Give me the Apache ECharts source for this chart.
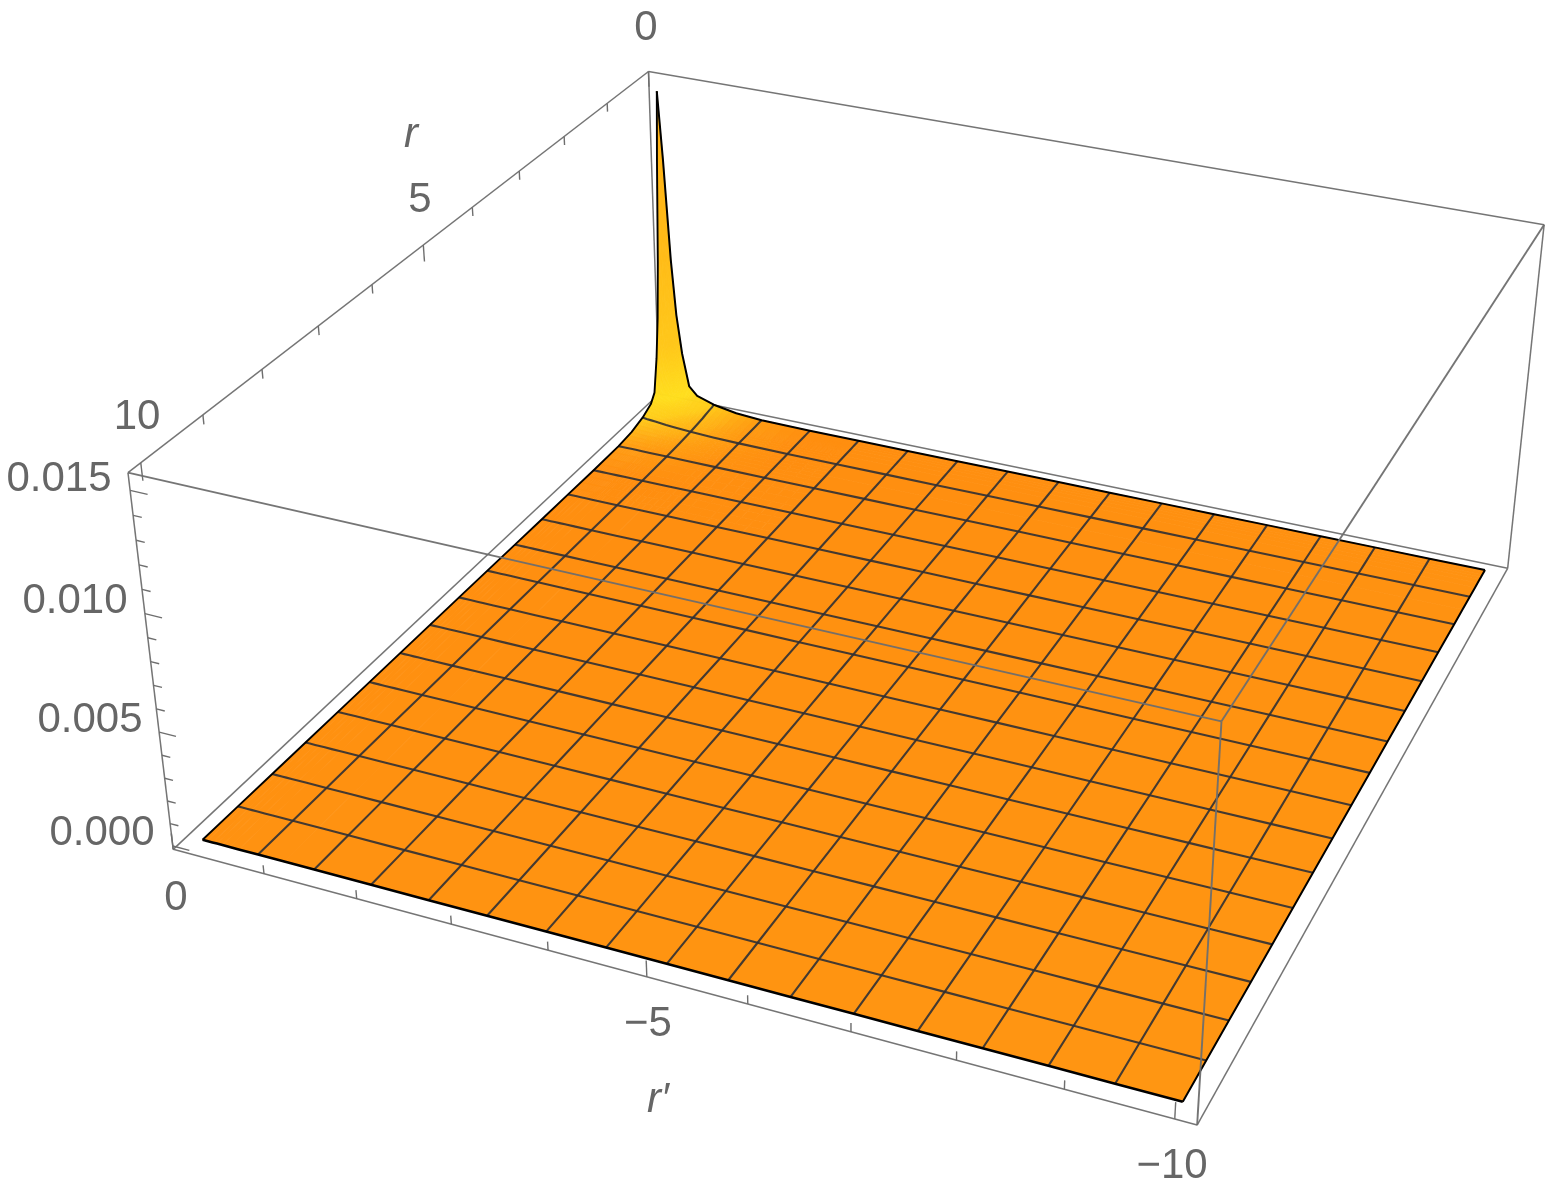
<!DOCTYPE html>
<html><head><meta charset="utf-8">
<style>html,body{margin:0;padding:0;background:#fff}#c{width:1557px;height:1190px}</style>
<script src="https://cdn.jsdelivr.net/npm/echarts@6/dist/echarts.min.js"></script>
</head><body><div id="c"></div>
<script>
// ---- data ----
const rSamples = [0.2,0.25,0.31,0.36,0.42,0.5,0.6,0.8125,1.1,1.425,2.0375,2.65,3.2625,3.875,4.4875,5.1,5.7125,6.325,6.9375,7.55,8.1625,8.775,9.3875,10];
const rPrimeSamples = [-0.2,-0.25,-0.31,-0.36,-0.42,-0.5,-0.6,-0.8125,-1.1,-1.425,-2.0375,-2.65,-3.2625,-3.875,-4.4875,-5.1,-5.7125,-6.325,-6.9375,-7.55,-8.1625,-8.775,-9.3875,-10];
// surface height (x 0.001) near the corner, rows r, columns r'
const zNearCorner = [
 [15.2,12.0,7.2,4.5,2.6,1.0,0.6,0.32,0.12,0.03],
 [12.0,9.0,5.6,3.6,2.3,0.95,0.55,0.28,0.11,0.03],
 [7.2,5.6,3.9,2.8,1.9,0.85,0.5,0.26,0.1,0.03],
 [4.5,3.6,2.8,2.1,1.5,0.75,0.45,0.24,0.09,0.03],
 [2.6,2.3,1.9,1.5,1.2,0.65,0.4,0.22,0.09,0.03],
 [1.0,0.95,0.85,0.75,0.65,0.45,0.32,0.18,0.08,0.025],
 [0.6,0.55,0.5,0.45,0.4,0.32,0.25,0.15,0.07,0.02],
 [0.32,0.28,0.26,0.24,0.22,0.18,0.15,0.1,0.05,0.02],
 [0.12,0.11,0.1,0.09,0.09,0.08,0.07,0.05,0.03,0.01],
 [0.03,0.03,0.03,0.03,0.03,0.025,0.02,0.02,0.01,0.005]
];
const zFarField = 0;
const meshR = [0.8125,1.425,2.0375,2.65,3.2625,3.875,4.4875,5.1,5.7125,6.325,6.9375,7.55,8.1625,8.775,9.3875];
const meshRPrime = [-0.8125,-1.425,-2.0375,-2.65,-3.2625,-3.875,-4.4875,-5.1,-5.7125,-6.325,-6.9375,-7.55,-8.1625,-8.775,-9.3875];
const rTicks = [0,1,2,3,4,5,6,7,8,9,10];
const rPrimeTicks = [0,-1,-2,-3,-4,-5,-6,-7,-8,-9,-10];
const zTicks = [0,0.001,0.002,0.003,0.004,0.005,0.006,0.007,0.008,0.009,0.010,0.011,0.012,0.013,0.014,0.015];
const tickLabels = ['0','5','10','0.015','0.010','0.005','0.000','0','\u22125','\u221210'];
const axisNames = ['r','r\u2032'];

// ---- view: axis box range and camera fitted to the box corners ----
const R0=0,R1=10.2,P0=0,P1=-10.2,Z0=-0.00015,Z1=0.0157;
const U=p=>(P0-p)/(P0-P1), V=r=>(r-R0)/(R1-R0), W=z=>(z-Z0)/(Z1-Z0);
const calib=[
 [0,1,1,128,473],[0,0,1,648,72],[1,0,1,1545,225],[1,1,1,1221,720],
 [0,1,0,173,852],[1,1,0,1197,1128],[1,0,0,1508,571],[0,0,0,658.5,395],
 [U(-0.2),V(10),W(0),203,838],[U(-10),V(10),W(0),1183,1099],[U(-10),V(0.2),W(0),1484,568],[U(-0.2),V(0.8125),W(0),644,421]
];
function fitCamera(pts){
  const n=11,M=Array.from({length:n},()=>new Array(n+1).fill(0));
  const add=(a,b)=>{for(let i=0;i<n;i++){for(let j=0;j<n;j++)M[i][j]+=a[i]*a[j];M[i][n]+=a[i]*b;}};
  pts.forEach(([u,v,w,x,y])=>{x/=1000;y/=1000;
    add([u,v,w,1,0,0,0,0,-x*u,-x*v,-x*w],x);
    add([0,0,0,0,u,v,w,1,-y*u,-y*v,-y*w],y);});
  for(let c=0;c<n;c++){let b=c;for(let i=c+1;i<n;i++)if(Math.abs(M[i][c])>Math.abs(M[b][c]))b=i;
    [M[c],M[b]]=[M[b],M[c]];
    for(let i=0;i<n;i++){if(i===c)continue;const f=M[i][c]/M[c][c];for(let j=c;j<=n;j++)M[i][j]-=f*M[c][j];}}
  return M.map((row,i)=>row[n]/row[i]);
}
const cam=fitCamera(calib);
function projUVW(u,v,w){const d=cam[8]*u+cam[9]*v+cam[10]*w+1;
  return [1000*(cam[0]*u+cam[1]*v+cam[2]*w+cam[3])/d,1000*(cam[4]*u+cam[5]*v+cam[6]*w+cam[7])/d];}
const proj=(p,r,z)=>projUVW(U(p),V(r),W(z));

const zAt=(ri,pi)=>(ri<zNearCorner.length&&pi<zNearCorner[0].length)?zNearCorner[ri][pi]*0.001:zFarField;

// ---- surface colour ----
const tStops=[[0,0],[0.02,0.12],[0.1,0.42],[0.3,0.78],[0.8,1],[3,0.72],[8,0.55],[16,0.42]];
function shade(z,p,r){const m=z*1000;let t=tStops[tStops.length-1][1];
  for(let i=1;i<tStops.length;i++){if(m<=tStops[i][0]){const a=tStops[i-1],b=tStops[i];t=a[1]+(b[1]-a[1])*(m-a[0])/(b[0]-a[0]);break;}}
  const front=(r/10)*0.5+(-p/10)*0.5;
  const g=141+front*9+(222-141)*t, bl=15+front*3+(30-15)*t;
  return 'rgb(255,'+Math.round(g)+','+Math.round(bl)+')';}

// ---- marks ----
const cells=[];
for(let i=0;i<rSamples.length-1;i++)for(let j=0;j<rPrimeSamples.length-1;j++)cells.push([i,j]);
cells.sort((a,b)=>(rSamples[a[0]]-rPrimeSamples[a[1]])-(rSamples[b[0]]-rPrimeSamples[b[1]]));

function renderCell(params,api){
  const i=api.value(0),j=api.value(1),sub=(i<11&&j<11)?4:1,kids=[];
  const r0=rSamples[i],r1=rSamples[i+1],p0=rPrimeSamples[j],p1=rPrimeSamples[j+1];
  const z00=zAt(i,j),z01=zAt(i,j+1),z10=zAt(i+1,j),z11=zAt(i+1,j+1);
  const pt=(a,b)=>{const r=r0+(r1-r0)*a,p=p0+(p1-p0)*b,z=(z00*(1-b)+z01*b)*(1-a)+(z10*(1-b)+z11*b)*a;return {r,p,z,c:api.coord(proj(p,r,z))};};
  for(let a=0;a<sub;a++)for(let b=0;b<sub;b++){
    const q=[pt(a/sub,b/sub),pt(a/sub,(b+1)/sub),pt((a+1)/sub,(b+1)/sub),pt((a+1)/sub,b/sub)];
    const mid=pt((a+.5)/sub,(b+.5)/sub),col=shade(mid.z,mid.p,mid.r);
    kids.push({type:'polygon',shape:{points:q.map(o=>o.c)},style:{fill:col,stroke:col,lineWidth:0.8}});
  }
  return {type:'group',children:kids};
}
function polyLine(pts,style){return {type:'polyline',shape:{points:pts},style:Object.assign({fill:null,lineJoin:'round'},style)};}

// mesh lines and outline follow the samples
const meshItems=[];
meshR.forEach(v=>meshItems.push(['r',rSamples.indexOf(v)]));
meshRPrime.forEach(v=>meshItems.push(['p',rPrimeSamples.indexOf(v)]));
const lineAlong=(kind,idx,api)=>kind==='r'
  ?rPrimeSamples.map((p,j)=>api.coord(proj(p,rSamples[idx],zAt(idx,j))))
  :rSamples.map((r,i)=>api.coord(proj(rPrimeSamples[idx],r,zAt(i,idx))));
const renderMesh=(par,api)=>{const it=meshItems[par.dataIndex];return polyLine(lineAlong(it[0],it[1],api),{stroke:'#303034',lineWidth:2.1,opacity:0.9});};
const outlineItems=[['r',rSamples.length-1,2.6],['p',rPrimeSamples.length-1,2],['r',0,2],['p',0,1.9]];
const renderOutline=(par,api)=>{const it=outlineItems[par.dataIndex];return polyLine(lineAlong(it[0],it[1],api),{stroke:'#000',lineWidth:it[2]});};

// box edges in unit-box coordinates
const backEdges=[[0,1,1,0,0,1],[0,0,1,1,0,1],[1,0,1,1,0,0],[0,0,1,0,0,0],[0,1,0,0,0,0],[0,0,0,1,0,0],[0,1,1,0,1,0],[0,1,0,1,1,0],[1,1,0,1,0,0]];
const frontEdges=[[0,1,1,1,1,1],[1,1,1,1,0,1],[1,1,1,1,1,0]];
const renderEdge=(list,w)=>(par,api)=>{const e=list[par.dataIndex];
  return polyLine([api.coord(projUVW(e[0],e[1],e[2])),api.coord(projUVW(e[3],e[4],e[5]))],{stroke:'#6e6e6e',lineWidth:w,opacity:0.95});};

// ticks
const tickItems=[];
rPrimeTicks.forEach(v=>tickItems.push([U(v),1,0,0,0,1,v%5===0?0.045:0.024]));
rTicks.forEach(v=>tickItems.push([0,V(v),1,0,0,-1,v%5===0?0.045:0.024]));
zTicks.forEach((v,i)=>tickItems.push([0,1,W(v),1,0,0,i%5===0?0.018:0.009]));
const renderTick=(par,api)=>{const t=tickItems[par.dataIndex],L=t[6];
  return polyLine([api.coord(projUVW(t[0],t[1],t[2])),api.coord(projUVW(t[0]+t[3]*L,t[1]+t[4]*L,t[2]+t[5]*L))],{stroke:'#6e6e6e',lineWidth:1.4});};

// text
const labelPlace=[[646,28],[420,200],[137,417],[59,479],[75,601],[90,720],[102,833],[176,898],[648,1024],[1172,1166]];
const namePlace=[[411,135],[658,1100]];
const labelFont='42px "Liberation Sans", Arial, sans-serif',nameFont='italic 42px "Liberation Sans", Arial, sans-serif';
const renderLabel=(par,api)=>{const c=api.coord(labelPlace[par.dataIndex]);
  return {type:'text',style:{text:tickLabels[par.dataIndex],x:c[0],y:c[1],font:labelFont,fill:'#666',textAlign:'center',textVerticalAlign:'middle'}};};
const renderName=(par,api)=>{const c=api.coord(namePlace[par.dataIndex]);
  return {type:'text',style:{text:axisNames[par.dataIndex],x:c[0],y:c[1],font:nameFont,fill:'#666',textAlign:'center',textVerticalAlign:'middle'}};};

const layer=(name,data,renderItem)=>({type:'custom',name,coordinateSystem:'cartesian2d',data,renderItem,silent:true,clip:false,animation:false,
  encode:{x:[],y:[]}});
const idx=a=>a.map((_,i)=>[i,0]);

const chart=echarts.init(document.getElementById('c'),null,{renderer:'canvas',width:1557,height:1190});
chart.setOption({
  animation:false,backgroundColor:'#fff',
  grid:{left:0,right:0,top:0,bottom:0},
  xAxis:{type:'value',min:0,max:1557,show:false},
  yAxis:{type:'value',min:0,max:1190,inverse:true,show:false},
  series:[
    layer('back box',idx(backEdges),renderEdge(backEdges,1.5)),
    layer('ticks',idx(tickItems),renderTick),
    layer('surface',cells,renderCell),
    layer('mesh',idx(meshItems),renderMesh),
    layer('outline',idx(outlineItems),renderOutline),
    layer('front box',idx(frontEdges),renderEdge(frontEdges,1.9)),
    layer('tick labels',idx(tickLabels),renderLabel),
    layer('axis names',idx(axisNames),renderName)
  ]
});
</script></body></html>
